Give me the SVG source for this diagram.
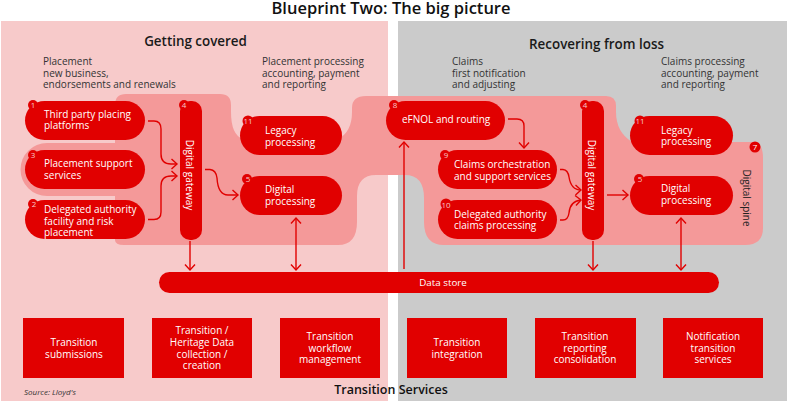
<svg xmlns="http://www.w3.org/2000/svg" width="800" height="402" viewBox="0 0 800 402">
<style>
text{font-family:"Open Sans","Liberation Sans",sans-serif}
.h{font-size:13.400px;font-weight:600;fill:#1a1a1a;text-anchor:middle}
.t{font-size:16.500px;font-weight:600;fill:#111;text-anchor:middle}
.c{font-size:10px;fill:#333}
.w{font-size:10px;fill:#fff}
.m{text-anchor:middle}
.n{font-size:8px;fill:#f6c9c9;text-anchor:middle}
.b{fill:#e10000}
.l{fill:none;stroke:#e10000;stroke-width:1.4}
</style>
<defs>
<marker id="a" markerUnits="userSpaceOnUse" markerWidth="10" markerHeight="12" refX="8" refY="6" orient="auto-start-reverse"><path d="M2.5 1 L8 6 L2.5 11" fill="none" stroke="#e10000" stroke-width="1.4"/></marker>
</defs>
<rect width="800" height="402" fill="#fff"/>
<rect x="1" y="21" width="387" height="380" fill="#f7caca"/>
<rect x="398" y="21" width="389" height="380" fill="#cbcbcb"/>
<path id="spine" fill="#f49999" d="M115 240V196H47a26.500 26.500 0 0 1 0-53H115V105Q115 94 126 94H220Q231 94 231 105V112Q231 135 243 139H338Q352 132 352 112V108Q352 96 366 96H606Q616 96 616 106V112Q616 132 632 142H755Q763 144 763 158V228Q763 245 745 245H444Q424 245 424 222V198Q424 175 405 175H376Q357 175 357 196V222Q357 245 338 245H124Q115 245 115 240Z"/>
<text class="t" x="391" y="14">Blueprint Two: The big picture</text>
<text class="h" x="195.500" y="46">Getting covered</text>
<text class="h" x="596.500" y="49">Recovering from loss</text>
<text class="c" x="43" y="65">Placement</text>
<text class="c" x="43" y="77">new business,</text>
<text class="c" x="43" y="88">endorsements and renewals</text>
<text class="c" x="262" y="65">Placement processing</text>
<text class="c" x="262" y="77">accounting, payment</text>
<text class="c" x="262" y="88">and reporting</text>
<text class="c" x="452" y="65">Claims</text>
<text class="c" x="452" y="77">first notification</text>
<text class="c" x="452" y="88">and adjusting</text>
<text class="c" x="661" y="65">Claims processing</text>
<text class="c" x="661" y="77">accounting, payment</text>
<text class="c" x="661" y="88">and reporting</text>
<g id="connectors" class="l">
<path marker-end="url(#a)" d="M148 121H154Q161 121 161 129V154Q161 164 171 164H177"/>
<path marker-end="url(#a)" d="M148 219.500H154Q161 219.500 161 212V186Q161 176 171 176H177"/>
<path marker-end="url(#a)" d="M205 169.500H210Q216 170 217 178Q218 195 228 195H238"/>
<path marker-end="url(#a)" d="M190 241V270"/>
<path marker-start="url(#a)" marker-end="url(#a)" d="M296 218V270"/>
<path marker-end="url(#a)" d="M404 269V142"/>
<path marker-end="url(#a)" d="M508 119H517Q524 119 524 126V148"/>
<path marker-end="url(#a)" d="M560 169.500H563Q568 170 569 177Q571 190 581 190"/>
<path marker-end="url(#a)" d="M560 220H563Q568 220 569 213Q570 201 581 200"/>
<path marker-end="url(#a)" d="M607 195H628"/>
<path marker-end="url(#a)" d="M593 241V270"/>
<path marker-start="url(#a)" marker-end="url(#a)" d="M681 218V270"/>
</g>
<g id="n1"><rect class="b" x="25" y="101" width="120" height="39" rx="19.500"/><circle class="b" cx="33" cy="105" r="5"/><text class="n" x="33" y="108">1</text><text class="w" x="44" y="118">Third party placing</text><text class="w" x="44" y="129">platforms</text></g>
<g id="n3"><rect class="b" x="25" y="150" width="120" height="39" rx="19.500"/><circle class="b" cx="33" cy="155" r="5"/><text class="n" x="33" y="158">3</text><text class="w" x="44" y="167">Placement support</text><text class="w" x="44" y="179">services</text></g>
<g id="n2"><rect class="b" x="25" y="200" width="120" height="39" rx="19.500"/><circle class="b" cx="33" cy="204" r="5"/><text class="n" x="34" y="207">2</text><text class="w" x="44" y="213">Delegated authority</text><text class="w" x="44" y="225">facility and risk</text><text class="w" x="44" y="236">placement</text></g>
<g id="n4a"><rect class="b" x="180" y="101" width="22" height="139" rx="10"/><circle class="b" cx="184" cy="105" r="5"/><text class="n" x="184" y="108">4</text><text class="w m" transform="translate(186 175) rotate(90)">Digital gateway</text></g>
<g id="n11a"><rect class="b" x="240" y="116" width="102" height="39" rx="19.500"/><circle class="b" cx="248" cy="121" r="5.500"/><text class="n" x="248" y="124">11</text><text class="w" x="265" y="134">Legacy</text><text class="w" x="265" y="146">processing</text></g>
<g id="n5a"><rect class="b" x="240" y="176" width="102" height="39" rx="19.500"/><circle class="b" cx="247" cy="179" r="5"/><text class="n" x="248" y="182">5</text><text class="w" x="265" y="193">Digital</text><text class="w" x="265" y="205">processing</text></g>
<g id="n8"><rect class="b" x="386" y="101" width="119" height="39" rx="19.500"/><circle class="b" cx="394" cy="105" r="5"/><text class="n" x="395" y="108">8</text><text class="w" x="402" y="123">eFNOL and routing</text></g>
<g id="n9"><rect class="b" x="438" y="150" width="119" height="39" rx="19.500"/><circle class="b" cx="445" cy="155" r="5"/><text class="n" x="446" y="158">9</text><text class="w" x="454" y="168">Claims orchestration</text><text class="w" x="454" y="180">and support services</text></g>
<g id="n10"><rect class="b" x="438" y="200" width="119" height="39" rx="19.500"/><circle class="b" cx="446" cy="204" r="5.500"/><text class="n" x="446" y="208">10</text><text class="w" x="454" y="218">Delegated authority</text><text class="w" x="454" y="229">claims processing</text></g>
<g id="n4b"><rect class="b" x="582" y="101" width="22" height="139" rx="10"/><circle class="b" cx="585" cy="105" r="5"/><text class="n" x="585" y="108">4</text><text class="w m" transform="translate(588 175) rotate(90)">Digital gateway</text></g>
<g id="n11b"><rect class="b" x="630" y="116" width="103" height="39" rx="19.500"/><circle class="b" cx="640" cy="121" r="5.500"/><text class="n" x="640" y="124">11</text><text class="w" x="661" y="134">Legacy</text><text class="w" x="661" y="145">processing</text></g>
<g id="n5b"><rect class="b" x="630" y="176" width="103" height="39" rx="19.500"/><circle class="b" cx="639" cy="179" r="5"/><text class="n" x="640" y="182">5</text><text class="w" x="661" y="192">Digital</text><text class="w" x="661" y="204">processing</text></g>
<g id="n7"><circle class="b" cx="755" cy="147" r="5.500"/><text class="n" x="755" y="150" style="fill:#fff">7</text><text class="c" transform="translate(743 198) rotate(90)" style="text-anchor:middle;fill:#222">Digital spine</text></g>
<g id="store"><rect class="b" x="159" y="272" width="560" height="21" rx="10.500"/><text class="w m" x="443" y="286" style="font-size:9.800px">Data store</text></g>
<g id="b1"><rect class="b" x="23" y="318" width="101" height="60"/><text class="w m" x="74" y="346">Transition</text><text class="w m" x="74" y="358">submissions</text></g>
<g id="b2"><rect class="b" x="152" y="318" width="100" height="60"/><text class="w m" x="202" y="334">Transition /</text><text class="w m" x="202" y="346">Heritage Data</text><text class="w m" x="202" y="358">collection /</text><text class="w m" x="202" y="369">creation</text></g>
<g id="b3"><rect class="b" x="280" y="318" width="100" height="60"/><text class="w m" x="330" y="340">Transition</text><text class="w m" x="330" y="352">workflow</text><text class="w m" x="330" y="363">management</text></g>
<g id="b4"><rect class="b" x="407" y="318" width="100" height="60"/><text class="w m" x="457" y="346">Transition</text><text class="w m" x="457" y="358">integration</text></g>
<g id="b5"><rect class="b" x="535" y="318" width="101" height="60"/><text class="w m" x="585" y="340">Transition</text><text class="w m" x="585" y="352">reporting</text><text class="w m" x="585" y="363">consolidation</text></g>
<g id="b6"><rect class="b" x="663" y="318" width="100" height="60"/><text class="w m" x="713" y="340">Notification</text><text class="w m" x="713" y="352">transition</text><text class="w m" x="713" y="363">services</text></g>
<text x="24" y="395" style="font-size:8px;font-style:italic;fill:#333">Source: Lloyd's</text>
<text x="391" y="394" style="font-size:12.500px;font-weight:600;fill:#111;text-anchor:middle">Transition Services</text>
</svg>
